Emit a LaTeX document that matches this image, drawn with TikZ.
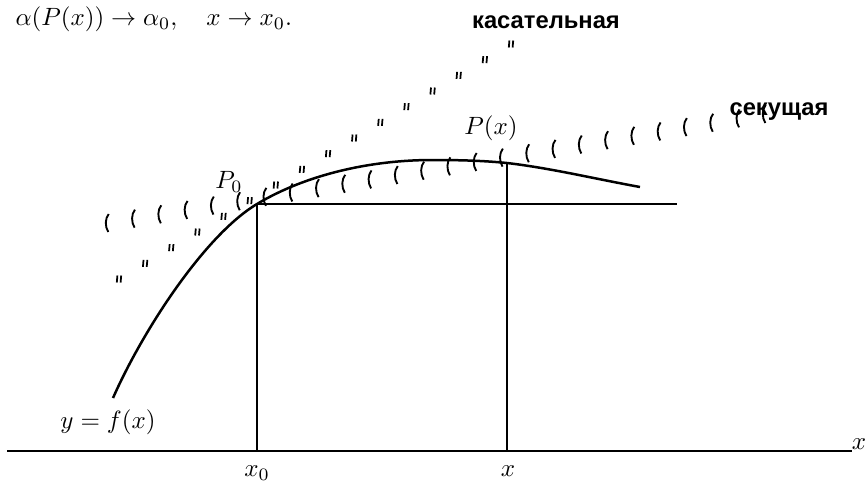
\documentclass[tikz,border=0pt]{standalone}
\usepackage{fontspec}
\setsansfont{Liberation Sans}
\usetikzlibrary{calc}
\tikzset{
  tmark/.pic={\draw[line width=0.7pt] (-2.2,3.5)--(-1.6,-3.5) (1.6,3.5)--(2.2,-3.5);},
  smark/.pic={\draw[line width=0.75pt] (1.7,-9) .. controls (-2,-4.5) and (-2.2,3.5) .. (1.3,9);},
  lbl/.style={font=\sffamily\bfseries\fontsize{9.5}{11}\selectfont},
  curvestyle/.style={line width=1pt},
  thinline/.style={line width=0.6pt},
  axisline/.style={line width=0.8pt}
}
\begin{document}
\begin{tikzpicture}[x=0.4pt,y=-0.4pt,
  every node/.style={inner sep=0pt,font=\fontsize{10}{12}\selectfont}]
\useasboundingbox (0,0) rectangle (866,481);
% key points
\coordinate (C0) at (113,398);
\coordinate (P0) at (257,204);
\coordinate (Top) at (432,160);
\coordinate (Px) at (507,163);
\coordinate (C1) at (640,187);
\coordinate (X0) at (257,451);
\coordinate (X) at (507,451);
\coordinate (H) at (677,204);
\coordinate (A1) at (7,451);
\coordinate (A2) at (852,451);
\coordinate (T1) at (119,279);
\coordinate (T2) at (511,44);
\coordinate (S1) at (107,223);
\coordinate (S2) at (764,114);
% axis and lines
\draw[axisline] (A1) -- (A2);
\draw[thinline] (P0) -- (X0);
\draw[thinline] (Px) -- (X);
\draw[thinline] (P0) -- (H);
% curve
\draw[curvestyle] (C0) .. controls (143,330) and (205,235) .. (P0)
  .. controls (307,174) and (372,160) .. (Top)
  .. controls (458,160) and (482,160.5) .. (Px)
  .. controls (550,168) and (596,179) .. (C1);
% tangent (marks)
\foreach \i in {0,...,15} \path ($(T1)!\i/15!(T2)$) pic {tmark};
% secant (marks)
\foreach \i in {0,...,25} \path ($(S1)!\i/25!(S2)$) pic {smark};
% labels
\node[anchor=west] (formula) at (15,19) {$\alpha(P(x))\to\alpha_0,\quad x\to x_0.$};
\node[lbl,anchor=base] (tang) at (546,28) {касательная};
\node[lbl,anchor=base] (sec) at (779,115) {секущая};
\node (lPx) at (491,128) {$P(x)$};
\node (lP0) at (229,182) {$P_0$};
\node (lf) at (108,422) {$y=f(x)$};
\node (lx0) at (257,473) {$x_0$};
\node (lx) at (508,471) {$x$};
\node (lax) at (859,444) {$x$};
\end{tikzpicture}
\end{document}
